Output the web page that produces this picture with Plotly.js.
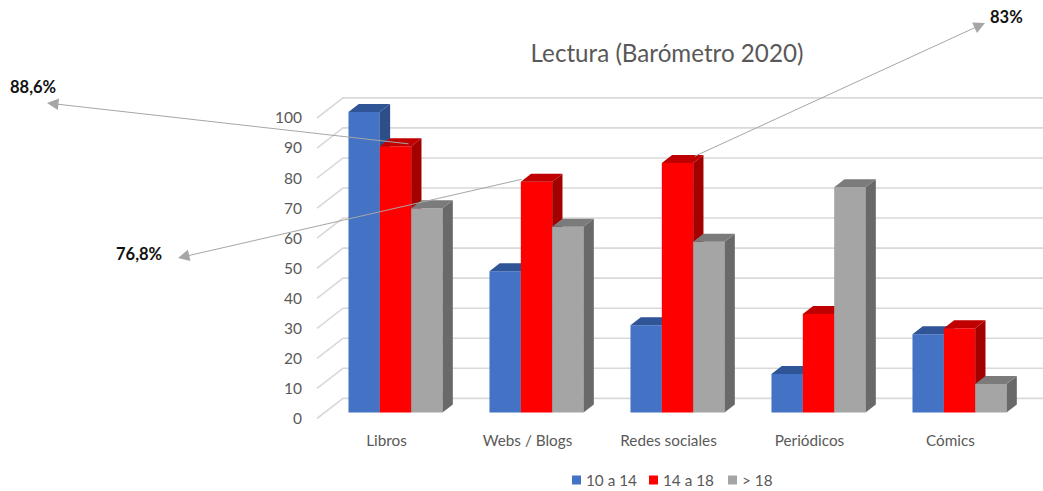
<!DOCTYPE html>
<html><head><meta charset="utf-8">
<script src="https://cdn.plot.ly/plotly-3.0.1.min.js"></script>
<style>html,body{margin:0;padding:0;background:#fff}#c{width:1043px;height:491px}</style>
</head><body><div id="c"></div>
<script>
const categories = ['Libros','Webs / Blogs','Redes sociales','Periódicos','Cómics'];
const seriesNames = ['10 a 14','14 a 18','> 18'];
const values1014 = [100,47,29,12.8,26];
const values1418 = [88.6,76.8,83,32.8,28];
const valuesOver18 = [68,61.8,56.8,75,9.5];
const yTicks = [0,10,20,30,40,50,60,70,80,90,100];
const seriesValues = [values1014,values1418,valuesOver18];
const frontColors = ['#4472C4','#FF0000','#A5A5A5'];
const topColors = ['#2F5597','#C00000','#7B7B7B'];
const sideColors = ['#2C4F88','#A30000','#696969'];

// pixel-to-data geometry of the pseudo-3D projection
const W=1043,H=491;
const pxPerCat=141, cat0Px=395.5, pxPerUnit=3.005, y0Px=418.5;
const xRange=[-cat0Px/pxPerCat,(W-cat0Px)/pxPerCat];
const yRange=[-(H-y0Px)/pxPerUnit,y0Px/pxPerUnit];
const barW=31.35/pxPerCat;
const lift=6/pxPerUnit;                 // bars stand slightly behind the axis plane
const dx=10.3/pxPerCat, dy=8/pxPerUnit; // bar depth
const wallDx=(343-317)/pxPerCat, wallDy=6.7;
const wallX0=(317-cat0Px)/pxPerCat;

const traces=[];
// grid on the back wall and floor/side wall diagonals (bottom layer)
const gx=[],gy=[];
yTicks.forEach(v=>{
  gx.push(wallX0,wallX0+wallDx,xRange[1],null);
  gy.push(v,v+wallDy,v+wallDy,null);
});
traces.push({type:'scatter',mode:'lines',x:gx,y:gy,line:{color:'#D9D9D9',width:1.6},
  hoverinfo:'skip',showlegend:false,xaxis:'x',yaxis:'y'});

seriesValues.forEach((vals,s)=>{
  const xa='x'+(s+2), ya='y'+(s+2);
  const offset=(s-1.5)*barW;
  traces.push({type:'bar',name:seriesNames[s],x:categories.map((c,i)=>i),y:vals,
    base:lift,width:barW,offset:offset,marker:{color:frontColors[s],line:{width:0}},
    hoverinfo:'y',showlegend:false,xaxis:xa,yaxis:ya});
  const sx=[],sy=[],tx=[],ty=[];
  vals.forEach((v,i)=>{
    const l=i+offset,r=l+barW,top=v+lift;
    sx.push(r,r+dx,r+dx,r,r,null);
    sy.push(lift,lift+dy,top+dy,top,lift,null);
    tx.push(l,l+dx,r+dx,r,l,null);
    ty.push(top,top+dy,top+dy,top,top,null);
  });
  traces.push({type:'scatter',mode:'lines',x:sx,y:sy,fill:'toself',fillcolor:sideColors[s],
    line:{width:0,color:sideColors[s]},hoverinfo:'skip',showlegend:false,xaxis:xa,yaxis:ya});
  traces.push({type:'scatter',mode:'lines',x:tx,y:ty,fill:'toself',fillcolor:topColors[s],
    line:{width:0,color:topColors[s]},hoverinfo:'skip',showlegend:false,xaxis:xa,yaxis:ya});
});

const font='Lato, "Open Sans", sans-serif';
const arrow=(hx,hy,tx,ty)=>({xref:'paper',yref:'paper',x:hx/W,y:1-hy/H,ax:tx-hx,ay:ty-hy,
  axref:'pixel',ayref:'pixel',text:'',showarrow:true,arrowhead:2,arrowsize:2.3,arrowwidth:1,
  arrowcolor:'#A6A6A6',standoff:0,startstandoff:0});
const label=(t,px,py)=>({xref:'paper',yref:'paper',x:px/W,y:1-py/H,text:'<b>'+t+'</b>',showarrow:false,
  xanchor:'center',yanchor:'middle',font:{family:font,size:16.5,color:'#111111'}});
// legend: swatch + text
const legendSwatchX=[572,649,728];
const legendAnn=seriesNames.map((n,s)=>({xref:'paper',yref:'paper',x:(legendSwatchX[s]+11.5)/W,y:1-480/H,
  text:n,showarrow:false,xanchor:'left',yanchor:'middle',font:{family:font,size:15.3,color:'#595959'}}));
const legendShapes=seriesNames.map((n,s)=>({type:'rect',xref:'paper',yref:'paper',
  x0:legendSwatchX[s]/W,x1:(legendSwatchX[s]+9)/W,y0:1-484.5/H,y1:1-475.5/H,
  fillcolor:frontColors[s],line:{width:0}}));

const hidden=(extra,r)=>Object.assign({range:r,visible:false,fixedrange:true},extra);
const layout={
  width:W,height:H,margin:{l:0,r:0,t:0,b:0,autoexpand:false},paper_bgcolor:'#fff',plot_bgcolor:'#fff',
  font:{family:font,color:'#595959'},showlegend:false,
  title:{text:'Lectura (Barómetro 2020)',x:667/W,y:1-54/H,xanchor:'center',yanchor:'middle',
    font:{family:font,size:24.2,color:'#595959'}},
  xaxis:{range:xRange,anchor:'free',position:(H-430)/H,tickmode:'array',
    tickvals:categories.map((c,i)=>i-9/pxPerCat),ticktext:categories,
    showgrid:false,zeroline:false,showline:false,ticks:'',tickfont:{family:font,size:15.3,color:'#595959'},fixedrange:true},
  yaxis:{range:yRange,anchor:'free',position:302/W,tickmode:'array',tickvals:yTicks,
    showgrid:false,zeroline:false,showline:false,ticks:'',tickfont:{family:font,size:15.5,color:'#595959'},fixedrange:true},
  xaxis2:hidden({overlaying:'x',anchor:'y2'},xRange),yaxis2:hidden({overlaying:'y',anchor:'x2'},yRange),
  xaxis3:hidden({overlaying:'x',anchor:'y3'},xRange),yaxis3:hidden({overlaying:'y',anchor:'x3'},yRange),
  xaxis4:hidden({overlaying:'x',anchor:'y4'},xRange),yaxis4:hidden({overlaying:'y',anchor:'x4'},yRange),
  shapes:legendShapes,
  annotations:[
    arrow(47,103,410,144),arrow(178,258,523,179),arrow(985,23,693,157),
    label('88,6%',33,87),label('76,8%',139,254),label('83%',1006,17)
  ].concat(legendAnn)
};
Plotly.newPlot('c',traces,layout,{displayModeBar:false,staticPlot:true});
</script></body></html>
